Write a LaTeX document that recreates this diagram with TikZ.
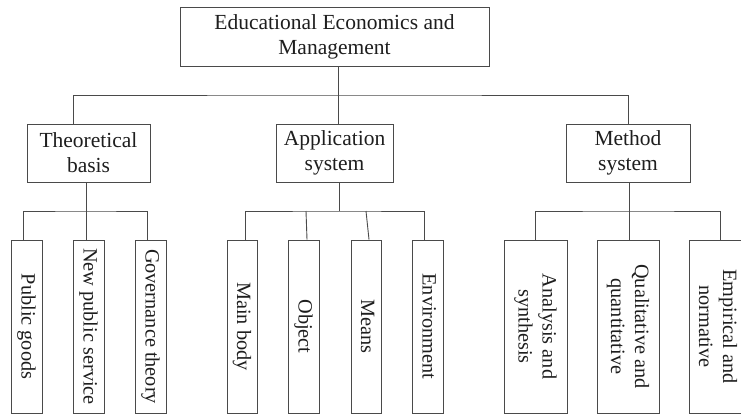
\documentclass[tikz,border=0pt]{standalone}
\usepackage{fontspec}
\setmainfont{Liberation Serif}
\usepackage{graphicx}
\definecolor{linec}{HTML}{4A4A4A}
\definecolor{textc}{HTML}{1E1E1E}
\tikzset{
  box/.style={draw=linec, line width=0.9pt, rectangle, inner sep=0pt, text=textc, align=center},
  topbox/.style={box, minimum width=309pt, minimum height=59pt, font=\fontsize{21.5}{25}\selectfont},
  midbox/.style={box, minimum height=58pt, font=\fontsize{21.5}{25}\selectfont},
  leafbox/.style={box, minimum height=173pt, font=\fontsize{20.3}{24}\selectfont},
  leaftext/.style={inner sep=0pt, text=textc, font=\fontsize{20.3}{24}\selectfont},
  conn/.style={draw=linec, line width=0.9pt}
}
\newcommand{\vtext}[1]{\rotatebox{-90}{\begin{tabular}{@{}c@{}}#1\end{tabular}}}
\begin{document}
\begin{tikzpicture}[x=1pt, y=-1pt]
\clip (0,0) rectangle (741,415);
\fill[white] (0,0) rectangle (741,415);

\node[topbox] (top) at (334.5,36.5) {Educational Economics and\\Management};

\node[midbox, minimum width=123pt] (tb) at (88.5,153) {Theoretical\\basis};
\node[midbox, minimum width=117pt] (as) at (334.5,153) {Application\\system};
\node[midbox, minimum width=124pt] (ms) at (628,153) {Method\\system};

\node[leafbox, minimum width=31pt] (pg) at (26.5,326.5) {\vtext{Public goods}};
\node[leafbox, minimum width=31pt] (nps) at (88.5,326.5) {\vtext{New public service}};
\node[leafbox, minimum width=31pt] (gt) at (150.5,326.5) {\vtext{Governance theory}};

\node[leafbox, minimum width=30pt] (mb) at (242,326.5) {\vtext{Main body}};
\node[leafbox, minimum width=31pt] (ob) at (303.5,326.5) {\vtext{Object}};
\node[leafbox, minimum width=30pt] (me) at (366,326.5) {\vtext{Means}};
\node[leafbox, minimum width=31pt] (en) at (427.5,326.5) {\vtext{Environment}};

\node[leafbox, minimum width=63pt] (an) at (535.5,326.5) {\vtext{Analysis and\\synthesis}};
\node[leafbox, minimum width=62pt] (qq) at (628,326.5) {\vtext{Qualitative and\\quantitative}};
\node[leafbox, minimum width=62pt] (ep) at (720,326.5) {};
\node[leaftext] (eptext) at ([xshift=-4pt]ep.center) {\vtext{Empirical and\\normative}};

% level 1 -> level 2
\coordinate (j0) at (338,95);
\draw[conn] ([xshift=3.5pt]top.south) -- (j0);
\draw[conn] ([xshift=-15.5pt]tb.north) |- (j0) -| (ms.north);
\draw[conn] (j0) -- ([xshift=3.5pt]as.north);

% theoretical basis
\coordinate (j1) at (86,211);
\draw[conn] ([xshift=-2.5pt]tb.south) -- (j1);
\draw[conn] ([xshift=-3.5pt]pg.north) |- (j1) -| ([xshift=-3.5pt]gt.north);
\draw[conn] (j1) -- ([xshift=-2.5pt]nps.north);

% application system
\coordinate (j2) at (339,211);
\draw[conn] ([xshift=4.5pt]as.south) -- (j2);
\draw[conn] ([xshift=3pt]mb.north) |- (j2) -| ([xshift=-3.5pt]en.north);
\draw[conn] ([xshift=3.5pt]ob.north) -- ([xshift=2.5pt]ob.north |- j2);
\draw[conn] ([xshift=3pt]me.north) -- (me.north |- j2);

% method system
\coordinate (j3) at (629,211);
\draw[conn] ([xshift=1pt]ms.south) -- (j3);
\draw[conn] (an.north) |- (j3) -| (ep.north);
\draw[conn] (j3) -- ([xshift=1pt]qq.north);
\end{tikzpicture}
\end{document}
